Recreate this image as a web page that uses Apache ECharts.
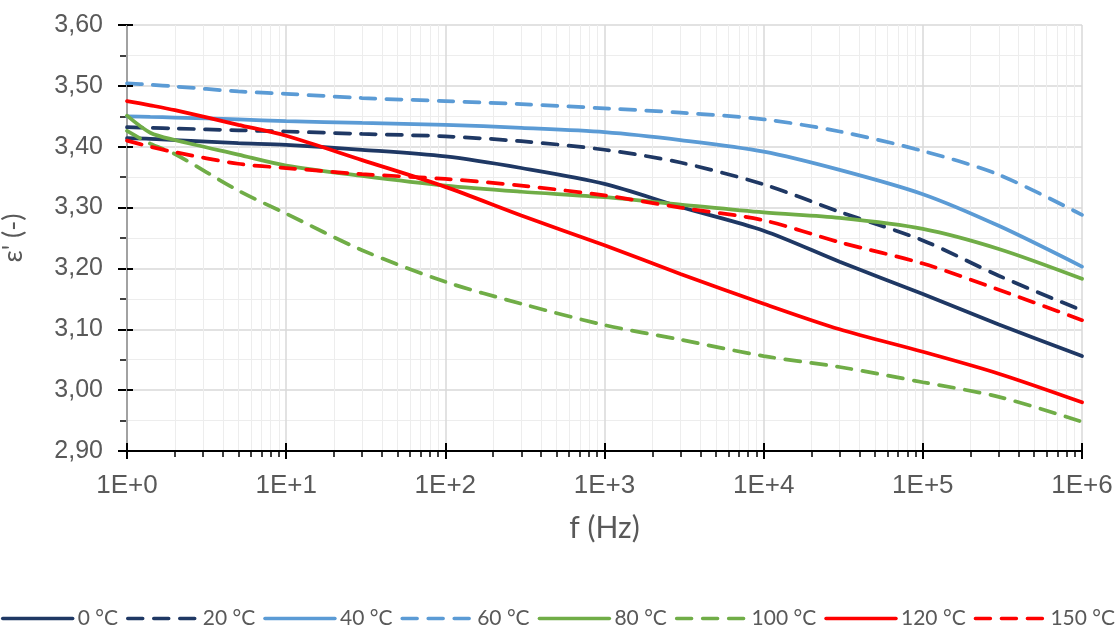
<!DOCTYPE html>
<html>
<head>
<meta charset="utf-8">
<script src="https://cdn.jsdelivr.net/npm/echarts@6/dist/echarts.min.js"></script>
<style>
html,body{margin:0;padding:0;background:#fff;}
#chart{width:1116px;height:630px;}
</style>
</head>
<body>
<div id="chart"></div>
<script>
// Frequencies (Hz)
const freqs = [1, 1.4, 2, 5, 10, 30, 100, 300, 1000, 3000, 10000, 30000, 100000, 300000, 1000000];
// Series names
const seriesNames = ['0 °C', '20 °C', '40 °C', '60 °C', '80 °C', '100 °C', '120 °C', '150 °C'];
// ε' values per temperature
const t0   = [3.414, 3.413, 3.411, 3.406, 3.403, 3.395, 3.384, 3.365, 3.339, 3.301, 3.262, 3.211, 3.158, 3.108, 3.056];
const t20  = [3.432, 3.431, 3.430, 3.427, 3.425, 3.421, 3.417, 3.409, 3.395, 3.374, 3.338, 3.293, 3.246, 3.188, 3.131];
const t40  = [3.450, 3.449, 3.448, 3.445, 3.442, 3.439, 3.436, 3.431, 3.424, 3.411, 3.392, 3.362, 3.322, 3.270, 3.203];
const t60  = [3.504, 3.502, 3.499, 3.491, 3.487, 3.480, 3.475, 3.470, 3.463, 3.456, 3.445, 3.425, 3.393, 3.354, 3.288];
const t80  = [3.451, 3.423, 3.411, 3.387, 3.369, 3.352, 3.336, 3.326, 3.317, 3.305, 3.292, 3.283, 3.265, 3.232, 3.183];
const t100 = [3.426, 3.405, 3.388, 3.328, 3.290, 3.230, 3.178, 3.142, 3.107, 3.083, 3.056, 3.038, 3.013, 2.989, 2.948];
const t120 = [3.475, 3.468, 3.460, 3.436, 3.418, 3.378, 3.334, 3.287, 3.238, 3.191, 3.142, 3.100, 3.063, 3.027, 2.980];
const t150 = [3.410, 3.400, 3.391, 3.372, 3.365, 3.355, 3.347, 3.336, 3.320, 3.300, 3.279, 3.243, 3.208, 3.165, 3.115];
// Minor x gridline positions
const minorX = [];
for (let d = 1; d < 1e6; d *= 10) { for (let k = 2; k <= 9; k++) minorX.push(k * d); }

const allValues = [t0, t20, t40, t60, t80, t100, t120, t150];
const colors = ['#1F3864', '#1F3864', '#5B9BD5', '#5B9BD5', '#70AD47', '#70AD47', '#FF0000', '#FF0000'];
const dashed = [false, true, false, true, false, true, false, true];

const series = seriesNames.map((name, i) => ({
  name: name,
  type: 'line',
  xAxisIndex: 0,
  data: freqs.map((f, j) => [f, allValues[i][j]]),
  symbol: 'none',
  smooth: 0.3,
  lineStyle: { color: colors[i], width: 3.75, type: dashed[i] ? [15, 11] : 'solid', cap: 'round' },
  itemStyle: { color: colors[i] },
  z: 3
}));

const chart = echarts.init(document.getElementById('chart'), null, { renderer: 'canvas' });
chart.setOption({
  animation: false,
  backgroundColor: '#fff',
  grid: { left: 127, right: 34, top: 25, bottom: 179, containLabel: false, outerBoundsMode: 'none' },
  legend: {
    data: seriesNames,
    bottom: 1,
    left: 'center',
    padding: 0,
    itemWidth: 70,
    itemHeight: 14,
    itemGap: 8,
    itemStyle: { opacity: 0 },
    lineStyle: { width: 3.5 },
    textStyle: { color: '#595959', fontSize: 21, fontFamily: 'Lato' }
  },
  xAxis: [{
    type: 'log',
    logBase: 10,
    min: 1,
    max: 1000000,
    name: 'f (Hz)',
    nameLocation: 'middle',
    nameGap: 62,
    nameTextStyle: { color: '#595959', fontSize: 30, fontFamily: 'Lato' },
    axisLine: { show: true, lineStyle: { color: '#000', width: 2 } },
    axisTick: { show: true, length: 8, lineStyle: { color: '#000', width: 2 } },
    axisLabel: {
      color: '#595959', fontSize: 26, fontFamily: 'Liberation Sans', margin: 22,
      formatter: v => '1E+' + Math.round(Math.log10(v))
    },
    splitLine: { show: true, lineStyle: { color: '#D9D9D9', width: 1.5 } },
    z: 2
  }, {
    type: 'log',
    logBase: 10,
    min: 1,
    max: 1000000,
    position: 'bottom',
    axisLine: { show: false },
    axisTick: { show: true, length: 6, customValues: minorX, lineStyle: { color: '#000', width: 1.5 } },
    axisLabel: { show: false },
    splitLine: { show: true, lineStyle: { color: '#EDEDED', width: 1 } },
    z: 1
  }, {
    type: 'log',
    logBase: 10,
    min: 1,
    max: 1000000,
    position: 'bottom',
    axisLine: { show: false },
    axisTick: { show: true, inside: true, length: 8, lineStyle: { color: '#000', width: 2 } },
    axisLabel: { show: false },
    splitLine: { show: false },
    z: 4
  }],
  yAxis: [{
    type: 'value',
    min: 2.9,
    max: 3.6,
    interval: 0.1,
    name: "ε' (-)",
    nameLocation: 'middle',
    nameGap: 100,
    nameRotate: 90,
    nameTextStyle: { color: '#595959', fontSize: 27, fontFamily: 'Lato' },
    axisLine: { show: true, lineStyle: { color: '#000', width: 2 } },
    axisTick: { show: true, length: 9, lineStyle: { color: '#000', width: 2 } },
    minorTick: { show: true, splitNumber: 2, length: 7, lineStyle: { color: '#000', width: 1.5 } },
    minorSplitLine: { show: true, lineStyle: { color: '#EDEDED', width: 1 } },
    splitLine: { show: true, lineStyle: { color: '#D9D9D9', width: 1.5 } },
    axisLabel: {
      color: '#595959', fontSize: 25, fontFamily: 'Liberation Sans', margin: 24,
      formatter: v => v.toFixed(2).replace('.', ',')
    }
  }, {
    type: 'value',
    min: 2.9,
    max: 3.6,
    interval: 0.1,
    position: 'left',
    axisLine: { show: false },
    axisTick: { show: true, inside: true, length: 6, lineStyle: { color: '#000', width: 2 } },
    axisLabel: { show: false },
    splitLine: { show: false },
    z: 4
  }],
  series: series
});
</script>
</body>
</html>
